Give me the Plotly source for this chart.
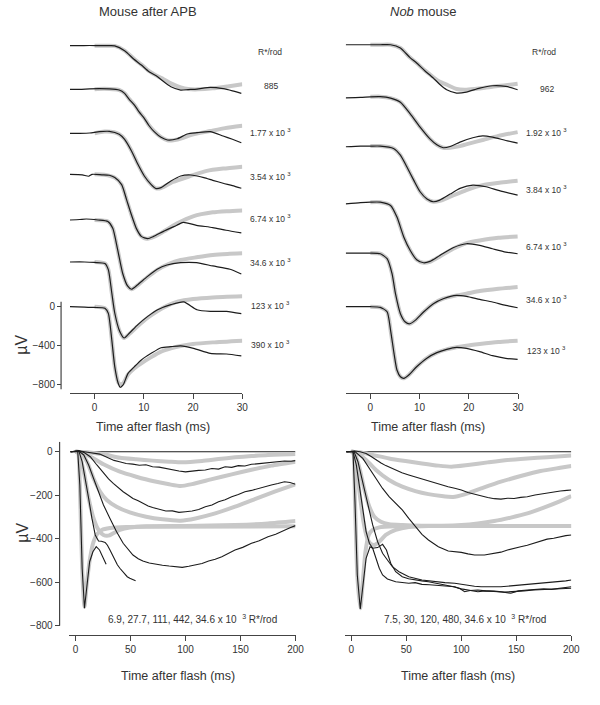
import plotly.graph_objects as go

# ---------------- DATA ----------------
# Top panels: stacked single-flash responses (t in ms, v in microvolts, relative to own baseline)
tl_labels = ["885", "1.77 x 10 <sup>3</sup>", "3.54 x 10 <sup>3</sup>", "6.74 x 10 <sup>3</sup>",
             "34.6 x 10 <sup>3</sup>", "123 x 10 <sup>3</sup>", "390 x 10 <sup>3</sup>"]
tl_offsets = [2691, 2241, 1788, 1365, 894, 461, 0]

tl_black_t = [
    [-5, -3, -1, 1, 3, 4.1, 6.1, 8, 9.5, 11, 12.8, 14, 15.5, 17.5, 19, 20.8, 23.5, 26.1, 28, 29.8],
    [-5, -3, -1, 1, 3, 5, 6.1, 7, 8.1, 9, 10.1, 11, 12.1, 13.5, 14.8, 16.8, 18.8, 20.8, 23.5, 26.1, 28, 29.8],
    [-5, -3, -1, 1, 3, 5, 6.1, 7.5, 8.8, 10.1, 11.5, 12.5, 13.5, 15.5, 17.5, 19.5, 22.2, 24, 26.1, 28, 29.8],
    [-5, -2.5, -1.2, -0.5, 1.5, 3, 4.1, 5.5, 6.5, 7.5, 8.5, 9.5, 10.8, 12, 14, 16.7, 18, 20.7, 24, 26.7, 29.8],
    [-5, -3, -1.7, 0.7, 2.7, 3.7, 4.7, 5.7, 6.7, 7.5, 8.7, 10.7, 12.7, 14.7, 17.5, 20.7, 24, 27.5, 29.8],
    [-5, -2, 0, 2.1, 2.8, 3.5, 4.1, 5.1, 6.0, 7.1, 8.8, 10.8, 12.8, 15.5, 18.1, 20.8, 23.5, 26.8, 29.8],
    [-5, -2, 0, 2.1, 2.8, 3.5, 4.1, 4.8, 5.2, 5.8, 6.8, 8.1, 9.5, 11.5, 13.5, 15.5, 17.5, 20.1, 23.5, 26.8, 29.8],
]
tl_black_v = [
    [0, 0, 2, 0, 0, -2, -52, -140, -199, -265, -320, -370, -423, -457, -452, -447, -430, -443, -465, -491],
    [0, 0, 5, 7, 5, -7, -41, -100, -162, -230, -299, -370, -436, -495, -522, -509, -460, -447, -436, -481, -515, -550],
    [0, 0, 3, 17, 20, -10, -62, -182, -320, -440, -529, -570, -560, -491, -440, -430, -457, -485, -515, -540, -567],
    [0, -5, -20, 0, -5, -10, -34, -106, -261, -420, -560, -640, -663, -640, -588, -526, -495, -526, -549, -577, -604],
    [0, 5, 10, 0, -15, -86, -309, -549, -680, -714, -670, -584, -508, -464, -440, -440, -474, -508, -557],
    [0, 0, -5, -15, -79, -320, -526, -715, -784, -732, -646, -561, -492, -440, -412, -492, -509, -509, -533],
    [0, -5, -8, -15, -69, -343, -618, -790, -831, -807, -687, -618, -549, -481, -423, -412, -405, -429, -481, -488, -508],
]
tl_gray_t = [
    [0, 2, 4.1, 6.1, 8, 9.5, 11, 12.8, 14, 15.5, 17.5, 19, 21, 24, 27, 30],
    [0, 2, 5, 6.1, 7, 8.1, 9, 10.1, 11, 12.1, 13.5, 14.8, 16, 18, 19.5, 23.5, 26.5, 30],
    [0, 2, 4, 5, 6.1, 7.5, 8.8, 10.1, 11.5, 12.5, 13.5, 15.9, 19.5, 22.8, 26.1, 30],
    [0, 2, 4.1, 5.5, 6.5, 7.5, 8.5, 9.5, 10.5, 12, 14, 16.7, 20, 24, 27, 30],
    [0, 2.7, 3.7, 4.7, 5.7, 6.7, 7.5, 8.7, 10.7, 12.7, 15, 17.5, 20.7, 24, 27, 30],
    [0, 2.1, 2.8, 3.5, 4.1, 5.1, 6, 7.1, 8.8, 10.8, 12.8, 15, 17, 20, 24, 30],
    [0, 2.1, 2.8, 3.5, 4.1, 4.8, 5.2, 5.8, 6.8, 8.1, 9.5, 11.5, 13.5, 15.5, 17.5, 20, 24, 30],
]
tl_gray_v = [
    [0, 0, -2, -50, -135, -195, -260, -315, -345, -388, -430, -447, -450, -440, -420, -398],
    [0, 5, -7, -40, -98, -160, -228, -297, -368, -432, -493, -525, -525, -500, -471, -430, -400, -375],
    [0, 18, 10, -10, -58, -180, -318, -440, -529, -568, -565, -502, -440, -388, -364, -344],
    [0, -5, -34, -106, -261, -420, -560, -640, -665, -645, -590, -508, -433, -392, -380, -372],
    [0, -15, -86, -309, -549, -680, -714, -675, -590, -515, -455, -412, -385, -361, -350, -344],
    [0, -15, -79, -320, -526, -715, -784, -740, -660, -575, -505, -445, -406, -381, -365, -354],
    [0, -15, -69, -343, -618, -780, -800, -790, -700, -635, -584, -520, -464, -430, -405, -385, -368, -350],
]

tr_labels = ["962", "1.92 x 10 <sup>3</sup>", "3.84 x 10 <sup>3</sup>", "6.74 x 10 <sup>3</sup>",
             "34.6 x 10 <sup>3</sup>", "123 x 10 <sup>3</sup>"]
tr_offsets = [2701, 2161, 1656, 1068, 553, 0]

tr_black_t = [
    [-5, -2, 0, 2, 4.1, 6.1, 8, 9.4, 11, 12.8, 14, 15.5, 17.5, 19.5, 22.2, 24.8, 27.5, 29.9],
    [-5, -2, 0, 2, 4.1, 6.1, 8.1, 10.1, 12.1, 13.5, 14.8, 16.2, 18.2, 20.8, 22.8, 24.8, 27.5, 29.9],
    [-5, -2, 0, 2, 4.7, 6.1, 7.4, 8.8, 10.1, 11.5, 12.8, 14.1, 16.2, 18.2, 20.8, 23.5, 26.2, 29.9],
    [-5, -2, 0, 2, 4.1, 5.4, 6.8, 8.1, 9.4, 10.8, 12.1, 14.1, 16.8, 19.5, 22.2, 24.8, 27.5, 29.9],
    [-5, -2, 0, 2, 3.4, 4.4, 5.1, 6.1, 7.1, 8.0, 9.1, 10.8, 12.8, 14.8, 17.5, 19.5, 22.2, 24.8, 27.5, 29.9],
    [-5, -2, 0, 2, 3.4, 4.1, 4.8, 5.4, 6.1, 6.8, 7.8, 9.4, 11.4, 13.5, 15.5, 17.5, 19.5, 22.2, 24.8, 27.5, 29.9],
]
tr_black_v = [
    [0, 0, 0, 0, 0, -34, -130, -189, -265, -344, -405, -464, -498, -488, -447, -423, -430, -464],
    [-7, -3, 3, 5, -10, -52, -172, -309, -430, -491, -522, -509, -464, -419, -399, -412, -447, -474],
    [-7, 0, 0, 0, -24, -93, -213, -351, -471, -546, -574, -557, -495, -436, -402, -419, -460, -505],
    [-7, 5, 10, 10, -24, -144, -351, -488, -584, -615, -601, -540, -460, -419, -436, -471, -505, -522],
    [0, 0, 0, -7, -58, -213, -419, -625, -711, -729, -694, -608, -522, -471, -436, -447, -478, -505, -540, -564],
    [0, 0, 0, -7, -52, -241, -481, -653, -722, -739, -704, -619, -533, -474, -440, -419, -430, -464, -505, -533, -543],
]
tr_gray_t = [
    [0, 2, 4.1, 6.1, 8, 9.4, 11, 12.8, 14, 15.5, 17.5, 19.5, 22, 25, 27.5, 29.9],
    [0, 2, 4.1, 6.1, 8.1, 10.1, 12.1, 13.5, 14.8, 16.2, 18.2, 20, 23, 26, 29.9],
    [0, 2, 4.7, 6.1, 7.4, 8.8, 10.1, 11.5, 12.8, 14.1, 16.2, 19.5, 22.8, 26.2, 29.9],
    [0, 2, 4.1, 5.4, 6.8, 8.1, 9.4, 10.8, 12.1, 14.1, 16.8, 19.5, 22.2, 26, 29.9],
    [0, 2, 3.4, 4.4, 5.1, 6.1, 7.1, 8, 9.1, 10.8, 12.8, 14.8, 17.5, 19.5, 22.2, 26, 29.9],
    [0, 2, 3.4, 4.1, 4.8, 5.4, 6.1, 6.8, 7.8, 9.4, 11.4, 13.5, 15.5, 17.5, 19.5, 22.2, 26, 29.9],
]
tr_gray_v = [
    [0, 0, 0, -34, -130, -189, -262, -335, -378, -412, -457, -464, -452, -430, -418, -402],
    [3, 5, -10, -52, -172, -309, -430, -491, -522, -522, -505, -480, -440, -400, -361],
    [0, 0, -24, -93, -213, -351, -471, -546, -574, -565, -522, -454, -402, -378, -357],
    [10, 10, -24, -144, -351, -488, -584, -615, -605, -550, -471, -412, -385, -357, -344],
    [0, -7, -58, -213, -419, -625, -711, -729, -694, -608, -522, -471, -436, -419, -392, -368, -351],
    [0, -7, -52, -241, -481, -653, -722, -739, -704, -619, -533, -474, -440, -419, -402, -385, -364, -351],
]

# Bottom panels: overlaid responses, long time scale
zero_t = [-4.5, 200]
zero_v = [0, 0]

bl_black_t = [
    [-4.5, 3, 8, 13, 18, 22, 27, 31, 35, 40, 46, 52, 58, 64, 70, 76, 82, 88, 94, 100, 106, 112, 118, 124,
     130, 136, 142, 148, 154, 160, 167, 175, 182, 190, 196, 200],
    [-4.5, 3, 7.5, 13.4, 19.4, 25.4, 30, 34.3, 39, 43.3, 48, 52.2, 57, 61.2, 66, 70.1, 76, 82.1, 88, 94, 100,
     106, 112, 118, 124, 130, 136, 142, 148, 154, 160, 166, 172, 178, 184, 190, 195, 200],
    [-4.5, 3, 7.5, 11.9, 16.4, 20.9, 25.4, 31.3, 37.3, 43.3, 48, 52.2, 57, 61.2, 67, 73.1, 79, 85.1, 91, 97,
     103, 109, 115, 121, 127, 133, 139, 145, 152, 160, 167, 175, 182, 190, 195, 200],
    [-4.5, 3, 6, 9, 11.9, 14.9, 17.9, 20.9, 23.5, 26.9, 29, 31.3, 33.5, 35.8, 38, 40.3, 42.5, 44.8, 47, 49.3,
     52, 54.6],
    [-4.5, 2, 3.9, 6, 8.1, 10.4, 12.8, 15.8, 18.8, 21.8, 23.9, 26, 27.8],
]
bl_black_v = [
    [0, 4, 0, -3, -6, -11, -22, -30, -40, -46, -54, -57, -62, -60, -69, -71, -78, -83, -89, -93, -88, -86,
     -84, -77, -80, -69, -72, -64, -66, -58, -55, -51, -49, -43, -44, -41],
    [0, 4, -3, -23, -61, -100, -125, -146, -168, -184, -200, -215, -226, -238, -250, -257, -265, -273, -272,
     -279, -276, -273, -266, -253, -245, -230, -221, -207, -197, -184, -178, -169, -161, -153, -146, -138,
     -142, -150],
    [0, 3, -15, -61, -123, -184, -245, -307, -368, -421, -452, -475, -492, -503, -512, -518, -522, -526, -528,
     -532, -527, -521, -514, -503, -495, -483, -468, -452, -440, -421, -410, -391, -380, -360, -350, -340],
    [0, 3, -46, -123, -215, -307, -383, -411, -412, -417, -430, -452, -475, -498, -520, -536, -550, -564,
     -575, -582, -588, -593],
    [0, 0, -153, -536, -720, -598, -506, -460, -437, -452, -475, -506, -518],
]
bl_gray_t = [
    [0, 10.4, 25.4, 40.3, 55.2, 70.1, 85.1, 97, 115, 130, 145, 160, 175, 200],
    [0, 6, 16.4, 25.4, 40.3, 55.2, 70.1, 85.1, 95.5, 106, 124, 142, 160, 178, 200],
    [0, 4.5, 10.4, 16.4, 22.4, 28.4, 37.3, 49.3, 64.2, 79.1, 95.5, 109, 127, 145, 163, 181, 200],
    [0, 3, 7.5, 11.9, 16.4, 20.9, 25.4, 29.9, 34.3, 40.3, 49.3, 64.2, 100, 145, 175, 200],
    [0, 2, 3.9, 6, 8.1, 10.4, 13.4, 16.4, 19.4, 23.9, 31.3, 46.3, 70.1, 200],
]
bl_gray_v = [
    [0, -3, -12, -28, -35, -41, -46, -49, -43, -34, -26, -20, -15, -11],
    [0, -3, -31, -58, -92, -115, -135, -150, -158, -149, -126, -104, -83, -64, -46],
    [0, -3, -46, -123, -184, -222, -253, -279, -299, -311, -317, -307, -284, -253, -218, -184, -150],
    [0, -8, -92, -215, -307, -360, -383, -386, -375, -360, -349, -343, -342, -337, -330, -319],
    [0, 0, -153, -536, -713, -598, -483, -414, -380, -360, -351, -346, -345, -343],
]

br_black_t = [
    [-4.5, 3, 8, 13.4, 18, 22.4, 27, 31.3, 36, 40.3, 46, 52.2, 58, 64.2, 70, 76.1, 82, 88, 94, 100, 106, 112,
     118, 124, 130, 136, 142, 148, 154, 160, 167, 175, 182, 190, 196, 200],
    [-4.5, 3, 10.4, 16.4, 22.4, 28.4, 34.3, 40.3, 46.3, 52.2, 58.2, 64.2, 70.1, 79.1, 88.1, 94, 100, 106, 112,
     121, 130, 136, 142, 148, 154, 160, 166, 172, 178, 184, 190, 195, 200],
    [-4.5, 2.5, 6, 10.4, 14.9, 19.4, 23.9, 28.4, 32.8, 37.3, 43.3, 52.2, 64.2, 76.1, 85, 94, 100, 106, 112,
     118, 127, 136, 145, 154, 163, 172, 181, 190, 195, 200],
    [-4.5, 1.5, 4.5, 7.5, 10.4, 13.4, 16.4, 19.4, 23.9, 28.4, 31.9, 35.8, 40.3, 46.3, 52, 58.2, 64, 70.1, 77,
     85, 92, 100, 107, 115, 122, 130, 139, 148, 157, 166, 175, 184, 192, 200],
    [-4.5, 1.5, 3.3, 5.4, 8.1, 10.4, 13.4, 17, 19.4, 22.4, 25.4, 28.4, 32.8, 40.3, 46, 52.2, 58, 64.2, 71,
     79.1, 86, 94, 99, 103, 108, 115, 122, 130, 137, 145, 152, 160, 167, 175, 182, 190, 195, 200],
]
br_black_v = [
    [0, 3, 0, -8, -22, -38, -52, -64, -75, -84, -97, -107, -116, -126, -136, -146, -153, -161, -168, -176,
     -188, -196, -205, -211, -216, -218, -214, -215, -210, -207, -199, -192, -188, -181, -178, -176],
    [0, 2, -31, -77, -123, -169, -207, -238, -268, -307, -345, -380, -406, -437, -457, -460, -463, -470, -475,
     -475, -467, -462, -452, -446, -437, -430, -421, -414, -402, -398, -391, -386, -383],
    [0, 0, -46, -138, -245, -337, -414, -467, -498, -529, -552, -575, -590, -598, -602, -605, -610, -616,
     -619, -621, -622, -621, -617, -613, -609, -605, -601, -598, -594, -590],
    [0, 0, -61, -169, -276, -368, -421, -444, -441, -426, -452, -513, -552, -575, -584, -590, -594, -598,
     -604, -613, -620, -631, -638, -644, -640, -641, -646, -644, -640, -636, -634, -631, -630, -628],
    [0, 0, -230, -567, -723, -613, -490, -437, -444, -490, -536, -567, -585, -598, -600, -605, -602, -610,
     -612, -616, -618, -621, -630, -644, -638, -636, -640, -641, -645, -651, -640, -636, -634, -631, -633,
     -628, -626, -621],
]
br_gray_t = [
    [0, 7.5, 19.4, 34.3, 49.3, 64.2, 79.1, 91, 106, 124, 142, 160, 178, 200],
    [0, 4.5, 13.4, 22.4, 34.3, 46.3, 58.2, 70.1, 82.1, 92.5, 103, 118, 136, 154, 172, 190, 200],
    [0, 3, 7.5, 11.9, 16.4, 20.9, 26.9, 34.3, 46.3, 64.2, 82.1, 100, 115, 130, 145, 160, 175, 190, 200],
    [0, 2, 5.1, 8.1, 11, 14, 17, 20.9, 25.4, 31.3, 40.3, 52.2, 70.1, 100, 130, 200],
    [0, 1.5, 3.3, 5.4, 8.1, 10.4, 12.8, 15.8, 19.4, 25.4, 40.3, 70.1, 200],
]
br_gray_v = [
    [0, -3, -15, -31, -43, -54, -64, -69, -61, -49, -38, -31, -25, -18],
    [0, -3, -38, -84, -130, -161, -181, -195, -204, -208, -196, -169, -138, -112, -89, -74, -66],
    [0, -8, -77, -176, -253, -299, -322, -333, -337, -340, -340, -337, -330, -319, -303, -284, -257, -227, -204],
    [0, -8, -92, -215, -322, -391, -421, -429, -414, -383, -360, -346, -342, -342, -342, -342],
    [0, 0, -230, -567, -720, -598, -460, -383, -360, -348, -343, -342, -342],
]

top_xticks = [0, 10, 20, 30]
top_yticks = [-800, -400, 0]
bot_xticks = [0, 50, 100, 150, 200]
bot_yticks = [0, -200, -400, -600, -800]

bl_caption = "6.9, 27.7, 111, 442, 34.6 x 10  <sup>3</sup> R*/rod"
br_caption = "7.5, 30, 120, 480, 34.6 x 10  <sup>3</sup> R*/rod"

# ---------------- STYLE ----------------
W, H = 600, 705
FONT = "Liberation Sans, Arial, Helvetica, sans-serif"
BLACK = "#1c1c1c"
GRAY = "#c8c8c8"
TXT = "#333333"


def px(x):
    return x / W


def py(y):
    return 1 - y / H


fig = go.Figure()


def add_line(t, v, xa, ya, color, width, shape):
    fig.add_trace(go.Scatter(x=t, y=v, mode="lines", xaxis=xa, yaxis=ya, hoverinfo="skip",
                             line=dict(color=color, width=width, shape=shape, smoothing=0.6)))


# top panels: gray fits first, then black responses
for ts, vs, offs, xa, ya in [(tl_gray_t, tl_gray_v, tl_offsets, "x", "y"),
                             (tr_gray_t, tr_gray_v, tr_offsets, "x2", "y2")]:
    for t, v, o in zip(ts, vs, offs):
        add_line(t, [a + o for a in v], xa, ya, GRAY, 4, "spline")
for ts, vs, offs, xa, ya in [(tl_black_t, tl_black_v, tl_offsets, "x", "y"),
                             (tr_black_t, tr_black_v, tr_offsets, "x2", "y2")]:
    for t, v, o in zip(ts, vs, offs):
        add_line(t, [a + o for a in v], xa, ya, BLACK, 1.2, "spline")

# bottom panels
for xa, ya in [("x3", "y3"), ("x4", "y4")]:
    add_line(zero_t, zero_v, xa, ya, BLACK, 1.1, "linear")
for ts, vs, xa, ya in [(bl_gray_t, bl_gray_v, "x3", "y3"), (br_gray_t, br_gray_v, "x4", "y4")]:
    for t, v in zip(ts, vs):
        add_line(t, v, xa, ya, GRAY, 4, "spline")
for ts, vs, xa, ya in [(bl_black_t, bl_black_v, "x3", "y3"), (br_black_t, br_black_v, "x4", "y4")]:
    for t, v in zip(ts, vs):
        add_line(t, v, xa, ya, BLACK, 1.1, "linear")

tickfont = dict(family=FONT, size=10, color=TXT)
xcommon = dict(showgrid=False, zeroline=False, showline=True, linecolor="#444", linewidth=1.2,
               ticks="outside", ticklen=5, tickwidth=1.2, tickcolor="#444", tickfont=tickfont)
top_dom = [py(393.3), py(30)]
bot_dom = [py(635), py(441.7)]
top_range = [-893, 2853]
bot_range = [-843, 46]

fig.update_layout(
    width=W, height=H, margin=dict(l=0, r=0, t=0, b=0),
    paper_bgcolor="white", plot_bgcolor="white", showlegend=False,
    font=dict(family=FONT, color=TXT),
    xaxis=dict(domain=[px(71), px(246)], range=[-5, 30], tickvals=top_xticks, anchor="y", **xcommon),
    yaxis=dict(domain=top_dom, range=top_range, anchor="free", position=px(62), tickvals=top_yticks,
               ticks="outside", ticklen=4, tickwidth=1.2, tickcolor="#444", tickfont=tickfont,
               showline=False, showgrid=False, zeroline=False),
    xaxis2=dict(domain=[px(351), px(526)], range=[-5, 30], tickvals=top_xticks, anchor="y2", **xcommon),
    yaxis2=dict(domain=top_dom, range=top_range, anchor="x2", showticklabels=False, ticks="",
                showline=False, showgrid=False, zeroline=False),
    xaxis3=dict(domain=[px(70), px(300)], range=[-6, 200], tickvals=bot_xticks, anchor="y3", **xcommon),
    yaxis3=dict(domain=bot_dom, range=bot_range, anchor="free", position=px(60.5), tickvals=bot_yticks,
                ticks="outside", ticklen=5, tickwidth=1.2, tickcolor="#444", tickfont=tickfont,
                showline=False, showgrid=False, zeroline=False),
    xaxis4=dict(domain=[px(350), px(580)], range=[-6, 200], tickvals=bot_xticks, anchor="y4", **xcommon),
    yaxis4=dict(domain=bot_dom, range=bot_range, anchor="x4", showticklabels=False, ticks="",
                showline=False, showgrid=False, zeroline=False),
)

# partial y-axis lines (offset from plot area, like the original)
fig.add_shape(type="line", xref="paper", yref="y", x0=px(62), x1=px(62), y0=-852, y1=51,
              line=dict(color="#444", width=1.2))
fig.add_shape(type="line", xref="paper", yref="y3", x0=px(60.5), x1=px(60.5), y0=-800, y1=46,
              line=dict(color="#444", width=1.2))

ann = []


def note(x, y, text, size, xanchor="center", angle=0):
    ann.append(dict(x=px(x), y=py(y), xref="paper", yref="paper", text=text, showarrow=False,
                    xanchor=xanchor, yanchor="middle", textangle=angle,
                    font=dict(family=FONT, size=size, color=TXT)))


note(150, 11, "Mouse after APB", 13)
note(430, 11, "<i>Nob</i> mouse", 13)
for cx, cy in [(155, 426.5), (435, 426.5), (181, 676), (465, 676)]:
    note(cx, cy, "Time after flash (ms)", 12.5)
note(22, 345, "µV", 16, angle=-90)
note(22, 533, "µV", 16, angle=-90)

tl_label_y = [86, 133, 176, 218, 262, 305, 345]
tr_label_y = [89, 133, 189, 246.7, 299.3, 350]
note(274, 52, "R*/rod", 8.5)
note(552, 52, "R*/rod", 8.5)
for lab, yy in zip(tl_labels, tl_label_y):
    note(275, yy, lab, 8.5)
for lab, yy in zip(tr_labels, tr_label_y):
    note(555, yy, lab, 8.5)
note(195, 619, bl_caption, 10)
note(472, 619, br_caption, 10)

fig.update_layout(annotations=ann)
# the page's default body margin would shift the figure by 8 px; remove it
fig.write_html("out.html", config={"displayModeBar": False},
               post_script="document.body.style.margin='0';")
